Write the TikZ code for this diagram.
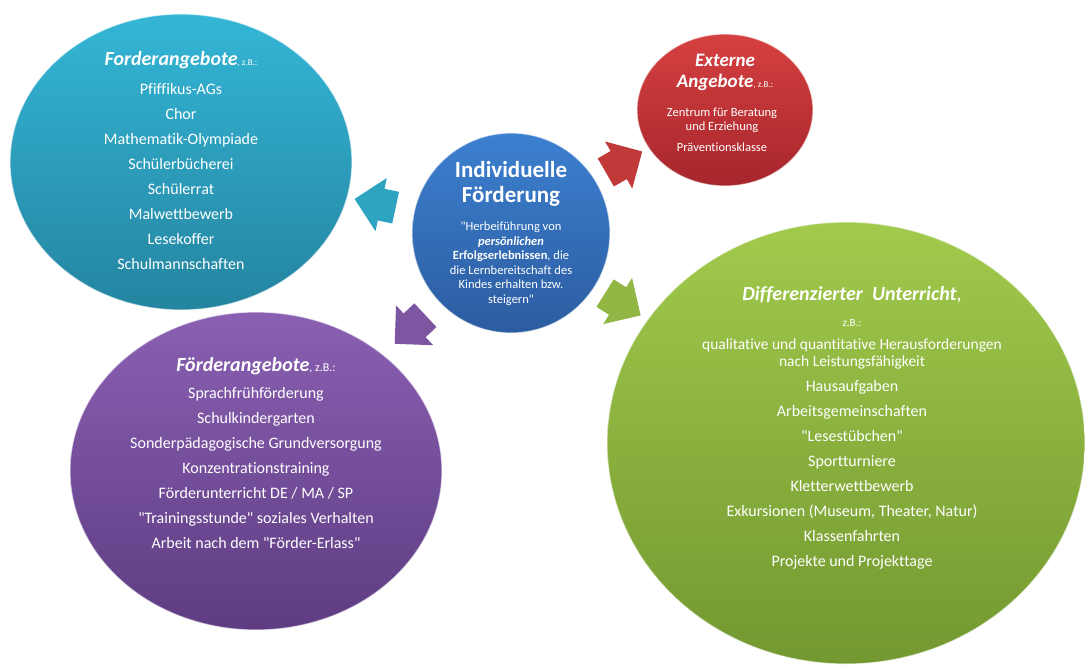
\documentclass[tikz,border=0pt]{standalone}
\usepackage{fontspec}
\setmainfont{Carlito}[Ligatures={TeXOff,CommonOff}]
\usetikzlibrary{shapes.geometric,shapes.arrows}
\definecolor{cyantop}{RGB}{52,182,214}
\definecolor{cyanbot}{RGB}{36,132,160}
\definecolor{bluetop}{RGB}{60,128,208}
\definecolor{bluebot}{RGB}{44,92,160}
\definecolor{redtop}{RGB}{214,64,64}
\definecolor{redbot}{RGB}{166,38,44}
\definecolor{purptop}{RGB}{138,96,178}
\definecolor{purpbot}{RGB}{94,60,130}
\definecolor{greentop}{RGB}{162,202,76}
\definecolor{greenbot}{RGB}{114,152,48}

\begin{document}
\begin{tikzpicture}[x=1pt,y=-1pt]
    \tikzset{bubble/.style = {shape=ellipse, inner sep=0, draw=white, line width=1.2pt, draw opacity=0.6}}
    \tikzset{pointer/.style = {shape=single arrow, inner xsep=0pt, inner ysep=16pt, minimum height=42pt, single arrow head extend=11pt}}
    \tikzset{heading/.style = {inner sep=0, text=white, align=center, font=\fontsize{20}{21}\selectfont\bfseries\itshape}}
    \tikzset{items/.style = {inner sep=0, text=white, align=center, font=\fontsize{16}{25}\selectfont}}
    \tikzset{small/.style = {inner sep=0, text=white, align=center, font=\fontsize{12.5}{14.5}\selectfont}}
    \newcommand{\zb}[1]{{\fontsize{#1}{#1}\selectfont\mdseries\upshape, z.B.:}}
    \useasboundingbox (0,0) rectangle (1085,665);
    % circles
    \node[bubble, top color=cyantop, bottom color=cyanbot, minimum width=342pt, minimum height=296pt] (a) at (181,162) {};
    \node[bubble, top color=bluetop, bottom color=bluebot, minimum width=198pt, minimum height=200pt] (b) at (511,233) {};
    \node[bubble, top color=redtop, bottom color=redbot, minimum width=176pt, minimum height=152pt] (c) at (725,110) {};
    \node[bubble, top color=purptop, bottom color=purpbot, minimum width=372pt, minimum height=318pt] (d) at (256,471) {};
    \node[bubble, top color=greentop, bottom color=greenbot, minimum width=478pt, minimum height=442pt] (e) at (846,443) {};
    % arrows
    \node[pointer, rotate=168, fill=cyantop!90!black] (ab) at (383,205) {};
    \node[pointer, rotate=30, fill=redtop!90!black] (bc) at (617,166) {};
    \node[pointer, rotate=223, fill=purptop!90!black] (bd) at (416,324) {};
    \node[pointer, rotate=-32, fill=greentop!90!black] (be) at (616,300) {};
    % texts
    \node[heading] (a1) at (181,60) {Forderangebote\zb{9}};
    \node[items] (a2) at (181,176) {Pfiffikus-AGs\\Chor\\Mathematik-Olympiade\\Schülerbücherei\\Schülerrat\\Malwettbewerb\\Lesekoffer\\Schulmannschaften};
    \node[heading, font=\fontsize{23}{25}\selectfont\bfseries] (b1) at (511,183.5) {Individuelle\\Förderung};
    \node[small] (b2) at (511,263.5) {"Herbeiführung von\\\textbf{\textit{persönlichen}}\\\textbf{Erfolgserlebnissen}, die\\die Lernbereitschaft des\\Kindes erhalten bzw.\\steigern"};
    \node[heading, font=\fontsize{19}{21}\selectfont\bfseries\itshape] (c1) at (725,72.5) {Externe\\Angebote\zb{9}};
    \node[small, font=\fontsize{12.5}{14}\selectfont] (c2) at (722,120) {Zentrum für Beratung\\und Erziehung};
    \node[small] (c3) at (722,147) {Präventionsklasse};
    \node[heading] (d1) at (256,366) {Förderangebote\zb{12}};
    \node[items] (d2) at (256,467.5) {Sprachfrühförderung\\Schulkindergarten\\Sonderpädagogische Grundversorgung\\Konzentrationstraining\\Förderunterricht DE / MA / SP\\"Trainingsstunde" soziales Verhalten\\Arbeit nach dem "Förder-Erlass"};
    \node[heading] (e1) at (852,295) {Differenzierter\ \ Unterricht{\mdseries\upshape,}};
    \node[small, font=\fontsize{11}{12}\selectfont] (e2) at (852,323) {z.B.:};
    \node[items, font=\fontsize{15.5}{17}\selectfont] (e3) at (852,353.5) {qualitative und quantitative Herausforderungen\\nach Leistungsfähigkeit};
    \node[items] (e4) at (852,474.5) {Hausaufgaben\\Arbeitsgemeinschaften\\"Lesestübchen"\\Sportturniere\\Kletterwettbewerb\\Exkursionen (Museum, Theater, Natur)\\Klassenfahrten\\Projekte und Projekttage};
\end{tikzpicture}
\end{document}
